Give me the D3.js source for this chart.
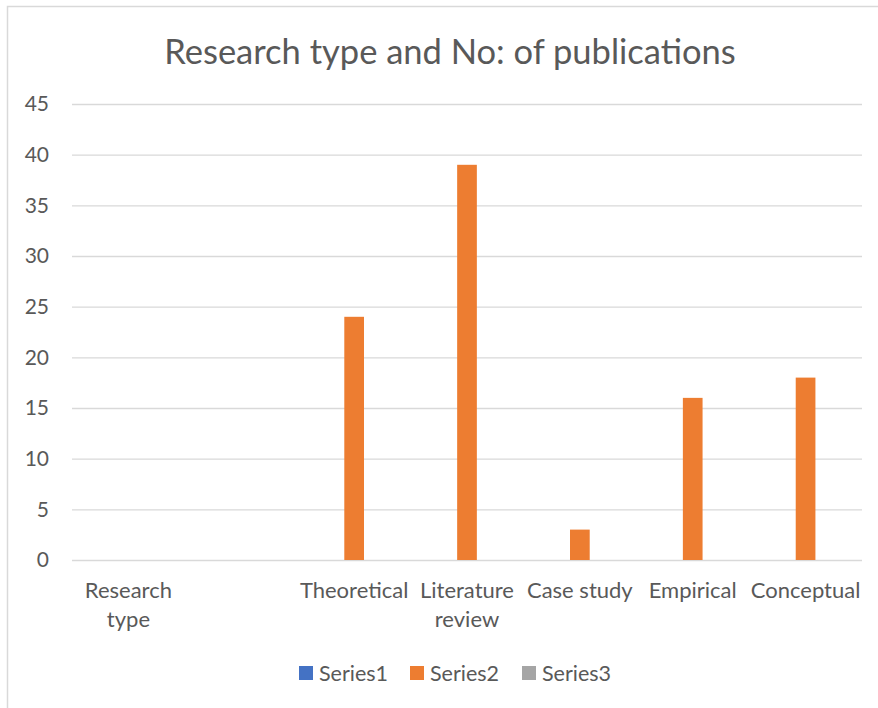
<!DOCTYPE html>
<html>
<head>
<meta charset="utf-8">
<script src="https://cdn.jsdelivr.net/npm/d3@7"></script>
<style>
  html, body { margin: 0; padding: 0; background: #fff; }
  svg { display: block; }
  text { font-family: Lato, "Noto Sans", sans-serif; fill: #595959; }
</style>
</head>
<body>
<svg id="chart" width="878" height="708"></svg>
<script>
// Chart data
const categories = ["Research type", "", "Theoretical", "Literature review", "Case study", "Empirical", "Conceptual"];
const seriesNames = ["Series1", "Series2", "Series3"];
const series1 = [null, null, null, null, null, null, null];
const series2 = [null, null, 24, 39, 3, 16, 18];
const series3 = [null, null, null, null, null, null, null];
const yTicks = [0, 5, 10, 15, 20, 25, 30, 35, 40, 45];
const titleText = "Research type and No: of publications";

const colors = ["#4472C4", "#ED7D31", "#A5A5A5"];
const seriesValues = [series1, series2, series3];

const W = 878, H = 708;
const plot = { left: 72, right: 862, top: 104, bottom: 560 };

const svg = d3.select("#chart");

// chart area frame
svg.append("rect")
  .attr("x", 7.5).attr("y", 6.5)
  .attr("width", W + 20).attr("height", H + 20)
  .attr("fill", "#fff")
  .attr("stroke", "#d9d9d9").attr("stroke-width", 1.5);

// title
svg.append("text")
  .attr("x", 450).attr("y", 64)
  .attr("text-anchor", "middle")
  .style("font-size", "34.5px")
  .text(titleText);

const x0 = d3.scaleBand()
  .domain(d3.range(categories.length))
  .range([plot.left, plot.right])
  .paddingInner(0).paddingOuter(0);

// clustered columns: 27% gap between series, 219% gap between groups
const x1 = d3.scaleBand()
  .domain(seriesNames)
  .range([0, x0.bandwidth()])
  .paddingInner(0.27 / 1.27)
  .paddingOuter(1.095 / 1.27);

const y = d3.scaleLinear()
  .domain([0, 45])
  .range([plot.bottom, plot.top]);

// gridlines + y labels
const yAxis = d3.axisLeft(y)
  .tickValues(yTicks)
  .tickSize(-(plot.right - plot.left))
  .tickPadding(23)
  .tickFormat(d3.format("d"));

const gy = svg.append("g")
  .attr("transform", `translate(${plot.left},0)`)
  .call(yAxis);
gy.select(".domain").remove();
gy.selectAll(".tick line").attr("stroke", "#d9d9d9").attr("stroke-width", 1.3);
gy.selectAll(".tick text")
  .attr("fill", "#595959")
  .style("font-size", "21px")
  .style("font-family", "Lato, 'Noto Sans', sans-serif");

// bars
const rows = categories.map((c, i) => ({ i, values: seriesNames.map((s, k) => ({ s, k, v: seriesValues[k][i] })) }));

const groups = svg.append("g").selectAll("g")
  .data(rows)
  .join("g")
  .attr("transform", d => `translate(${x0(d.i)},0)`);

groups.selectAll("rect")
  .data(d => d.values.filter(e => e.v != null))
  .join("rect")
  .attr("x", e => x1(e.s))
  .attr("width", x1.bandwidth())
  .attr("y", e => y(e.v))
  .attr("height", e => y(0) - y(e.v))
  .attr("fill", e => colors[e.k]);

// category labels, wrapped to the band width
const labelSize = 22;
const lineGap = 29;
const gx = svg.append("g");
categories.forEach((c, i) => {
  if (!c) return;
  const cx = x0(i) + x0.bandwidth() / 2;
  const t = gx.append("text")
    .attr("x", cx)
    .attr("y", 598)
    .attr("text-anchor", "middle")
    .style("font-size", labelSize + "px");
  const words = c.split(" ");
  let line = [];
  let tspan = t.append("tspan").attr("x", cx).attr("dy", 0);
  words.forEach(w => {
    line.push(w);
    tspan.text(line.join(" "));
    if (tspan.node().getComputedTextLength() > x0.bandwidth() && line.length > 1) {
      line.pop();
      tspan.text(line.join(" "));
      line = [w];
      tspan = t.append("tspan")
        .attr("x", cx)
        .attr("dy", lineGap)
        .text(w);
    }
  });
});

// legend
const legend = svg.append("g");
const legendX = [299, 410, 522];
seriesNames.forEach((s, k) => {
  const g = legend.append("g").attr("transform", `translate(${legendX[k]},666)`);
  g.append("rect").attr("width", 14).attr("height", 14).attr("fill", colors[k]);
  g.append("text").attr("x", 20).attr("y", 7).attr("dy", "0.35em")
    .style("font-size", "21.5px").text(s);
});
</script>
</body>
</html>
